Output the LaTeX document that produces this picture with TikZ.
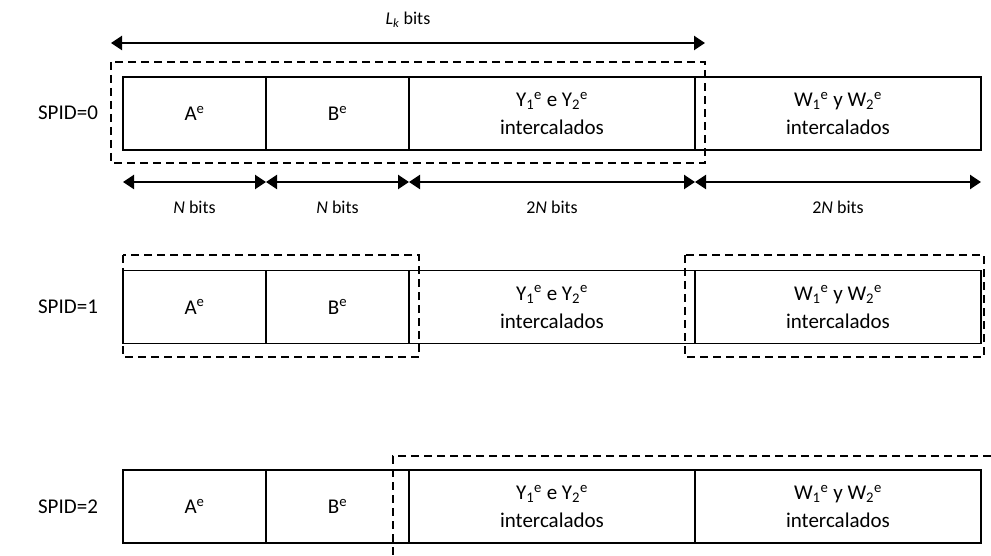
\documentclass[tikz,border=0pt]{standalone}
\usepackage{fontspec}
\setmainfont{Carlito}
\usetikzlibrary{arrows.meta,positioning}
\tikzset{field/.style={draw, line width=1.8pt, minimum height=73pt, inner sep=0pt,
  outer sep=0pt, align=center, font=\fontsize{21}{28}\selectfont}}
\tikzset{frame/.style={dashed, line width=1.5pt, dash pattern=on 8pt off 5pt}}
\tikzset{dim/.style={line width=2.4pt, {Triangle[length=11pt,width=14pt]}-{Triangle[length=11pt,width=14pt]}}}
\tikzset{lbl/.style={font=\fontsize{18}{22}\selectfont}}
\newcommand{\fldA}{A\textsuperscript{e}}
\newcommand{\fldB}{B\textsuperscript{e}}
\newcommand{\fldY}{Y\textsubscript{1}\textsuperscript{e} e Y\textsubscript{2}\textsuperscript{e}\\intercalados}
\newcommand{\fldW}{W\textsubscript{1}\textsuperscript{e} y W\textsubscript{2}\textsuperscript{e}\\intercalados}

\begin{document}
\begin{tikzpicture}[x=1pt,y=-1pt]
            \useasboundingbox (0,0) rectangle (991,556);
            % SPID=0
            \node[lbl] (s0) at (68,113) {\fontsize{21}{24}\selectfont SPID=0};
            \node[field, minimum width=143pt] (a0) at (194.5,113.5) {\fldA};
            \node[field, minimum width=143pt, right=0pt of a0] (b0) {\fldB};
            \node[field, minimum width=286pt, right=0pt of b0] (y0) {\fldY};
            \node[field, minimum width=286pt, right=0pt of y0] (w0) {\fldW};
            \draw[frame] (111,62) rectangle (705,163);
            \coordinate (k0) at (111,43);
            \coordinate (k1) at (705,43);
            \draw[dim] (k0) -- (k1);
            \node[lbl] (lk) at (408,20) {\textit{L}\textsubscript{\textit{k}} bits};
            % bit lengths
            \coordinate (n0) at (123,182);
            \coordinate (n1) at (266,182);
            \coordinate (n2) at (409,182);
            \coordinate (n3) at (695,182);
            \coordinate (n4) at (981,182);
            \draw[dim] (n0) -- node[lbl, yshift=-25pt] (l1) {\textit{N} bits} (n1);
            \draw[dim] (n1) -- node[lbl, yshift=-25pt] (l2) {\textit{N} bits} (n2);
            \draw[dim] (n2) -- node[lbl, yshift=-25pt] (l3) {2\textit{N} bits} (n3);
            \draw[dim] (n3) -- node[lbl, yshift=-25pt] (l4) {2\textit{N} bits} (n4);
            % SPID=1
            \node[lbl] (s1) at (68,307) {\fontsize{21}{24}\selectfont SPID=1};
            \node[field, minimum width=143pt] (a1) at (194.5,307) {\fldA};
            \node[field, minimum width=143pt, right=0pt of a1] (b1) {\fldB};
            \node[field, minimum width=286pt, right=0pt of b1] (y1) {\fldY};
            \node[field, minimum width=286pt, right=0pt of y1] (w1) {\fldW};
            \draw[frame] (123,255) rectangle (419,357);
            \draw[frame] (685,255) rectangle (984,357);
            % SPID=2
            \node[lbl] (s2) at (68,506.5) {\fontsize{21}{24}\selectfont SPID=2};
            \node[field, minimum width=143pt] (a2) at (194.5,506.5) {\fldA};
            \node[field, minimum width=143pt, right=0pt of a2] (b2) {\fldB};
            \node[field, minimum width=286pt, right=0pt of b2] (y2) {\fldY};
            \node[field, minimum width=286pt, right=0pt of y2] (w2) {\fldW};
            \draw[frame] (991,456) -- (393,456) -- (393,556);
        \end{tikzpicture}
\end{document}
